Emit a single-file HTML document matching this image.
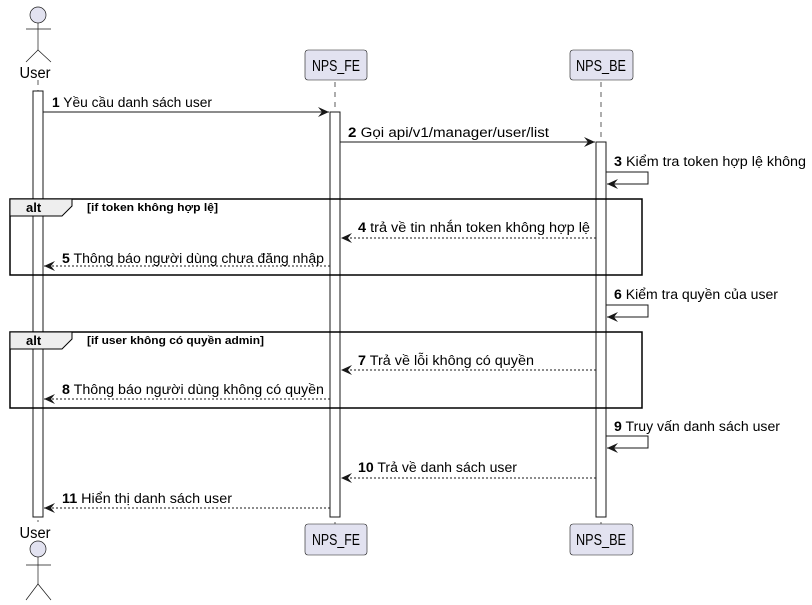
<!DOCTYPE html>
<html><head><meta charset="utf-8"><style>
html,body{margin:0;padding:0;background:#fff}
svg{display:block}
text{font-family:"Liberation Sans","DejaVu Sans",sans-serif;fill:#000}
.m{font-size:13.5px}
.p{font-size:15.5px}
</style></head><body>
<svg width="812" height="605" viewBox="0 0 812 605" xmlns="http://www.w3.org/2000/svg">
<defs>
<marker id="a" markerWidth="12" markerHeight="10" refX="11" refY="5" orient="auto" markerUnits="userSpaceOnUse">
<path d="M0,0 L11,5 L0,10 L4,5 Z" fill="#181818"/></marker>
</defs>
<g stroke="#181818" stroke-width="0.7" stroke-dasharray="5,5">
<line x1="38" y1="80" x2="38" y2="522"/>
<line x1="335" y1="82" x2="335" y2="524"/>
<line x1="601" y1="82" x2="601" y2="524"/>
</g>
<g fill="#fff" stroke="#181818" stroke-width="1">
<rect x="33" y="91" width="10" height="426"/>
<rect x="330" y="112" width="10" height="405"/>
<rect x="596" y="142" width="10" height="375"/>
</g>
<g fill="#E2E2F0" stroke="#181818" stroke-width="0.6">
<rect x="305" y="50" width="62" height="30" rx="3"/>
<rect x="570" y="50" width="63" height="30" rx="3"/>
<rect x="305" y="524" width="62" height="31" rx="3"/>
<rect x="570" y="524" width="63" height="31" rx="3"/>
</g>
<text class="p" x="336" y="71" text-anchor="middle" textLength="48" lengthAdjust="spacingAndGlyphs">NPS_FE</text>
<text class="p" x="601" y="71" text-anchor="middle" textLength="50" lengthAdjust="spacingAndGlyphs">NPS_BE</text>
<text class="p" x="336" y="545" text-anchor="middle" textLength="48" lengthAdjust="spacingAndGlyphs">NPS_FE</text>
<text class="p" x="601" y="545" text-anchor="middle" textLength="50" lengthAdjust="spacingAndGlyphs">NPS_BE</text>
<g stroke="#181818" stroke-width="0.7" fill="none">
<circle cx="38" cy="15" r="8" fill="#E2E2F0"/>
<line x1="38" y1="23" x2="38" y2="50"/><line x1="26" y1="29" x2="51" y2="29"/>
<path d="M26,62 L38,50 L51,62"/>
<circle cx="38" cy="549" r="8" fill="#E2E2F0"/>
<line x1="38" y1="557" x2="38" y2="584"/><line x1="26" y1="565" x2="51" y2="565"/>
<path d="M26,600 L38,584 L51,600"/>
</g>
<text class="p" x="35" y="78" text-anchor="middle" textLength="31" lengthAdjust="spacingAndGlyphs">User</text>
<text class="p" x="35" y="538" text-anchor="middle" textLength="31" lengthAdjust="spacingAndGlyphs">User</text>
<g stroke="#000" stroke-width="1.5" fill="none">
<rect x="10" y="199" width="632" height="76"/>
<rect x="10" y="332" width="632" height="76"/>
</g>
<g fill="#EEEEEE" stroke="#000" stroke-width="1">
<path d="M10,199 L72,199 L72,206 L62,216 L10,216 Z"/>
<path d="M10,332 L72,332 L72,339 L62,349 L10,349 Z"/>
</g>
<text x="26" y="212" font-size="13" font-weight="bold">alt</text>
<text x="26" y="345" font-size="13" font-weight="bold">alt</text>
<text x="87" y="211" font-size="11" font-weight="bold" textLength="131" lengthAdjust="spacingAndGlyphs">[if token không hợp lệ]</text>
<text x="87" y="344" font-size="11" font-weight="bold" textLength="177" lengthAdjust="spacingAndGlyphs">[if user không có quyền admin]</text>
<g stroke="#181818" stroke-width="1" fill="none">
<line x1="43" y1="112" x2="329" y2="112" marker-end="url(#a)"/>
<line x1="340" y1="142" x2="595" y2="142" marker-end="url(#a)"/>
<path d="M606,172 L648,172 L648,184 L607,184" marker-end="url(#a)"/>
<path d="M606,305 L648,305 L648,317 L607,317" marker-end="url(#a)"/>
<path d="M606,436 L648,436 L648,448 L607,448" marker-end="url(#a)"/>
<g stroke-dasharray="2,2">
<line x1="596" y1="238" x2="341" y2="238" marker-end="url(#a)"/>
<line x1="330" y1="266" x2="44" y2="266" marker-end="url(#a)"/>
<line x1="596" y1="370" x2="341" y2="370" marker-end="url(#a)"/>
<line x1="330" y1="399" x2="44" y2="399" marker-end="url(#a)"/>
<line x1="596" y1="478" x2="341" y2="478" marker-end="url(#a)"/>
<line x1="330" y1="508" x2="44" y2="508" marker-end="url(#a)"/>
</g>
</g>
<text class="m" x="52" y="107" textLength="160" lengthAdjust="spacingAndGlyphs"><tspan font-weight="bold">1</tspan> Yều cầu danh sách user</text>
<text class="m" x="348" y="137" textLength="201" lengthAdjust="spacingAndGlyphs"><tspan font-weight="bold">2</tspan> Gọi api/v1/manager/user/list</text>
<text class="m" x="614" y="166" textLength="192" lengthAdjust="spacingAndGlyphs"><tspan font-weight="bold">3</tspan> Kiểm tra token hợp lệ không</text>
<text class="m" x="358" y="232" textLength="232" lengthAdjust="spacingAndGlyphs"><tspan font-weight="bold">4</tspan> trả về tin nhắn token không hợp lệ</text>
<text class="m" x="62" y="263" textLength="262" lengthAdjust="spacingAndGlyphs"><tspan font-weight="bold">5</tspan> Thông báo người dùng chưa đăng nhập</text>
<text class="m" x="614" y="299" textLength="164" lengthAdjust="spacingAndGlyphs"><tspan font-weight="bold">6</tspan> Kiểm tra quyền của user</text>
<text class="m" x="358" y="365" textLength="176" lengthAdjust="spacingAndGlyphs"><tspan font-weight="bold">7</tspan> Trả về lỗi không có quyền</text>
<text class="m" x="62" y="394" textLength="262" lengthAdjust="spacingAndGlyphs"><tspan font-weight="bold">8</tspan> Thông báo người dùng không có quyền</text>
<text class="m" x="614" y="431" textLength="166" lengthAdjust="spacingAndGlyphs"><tspan font-weight="bold">9</tspan> Truy vấn danh sách user</text>
<text class="m" x="358" y="472" textLength="159" lengthAdjust="spacingAndGlyphs"><tspan font-weight="bold">10</tspan> Trả về danh sách user</text>
<text class="m" x="62" y="503" textLength="170" lengthAdjust="spacingAndGlyphs"><tspan font-weight="bold">11</tspan> Hiển thị danh sách user</text>
</svg>
</body></html>
